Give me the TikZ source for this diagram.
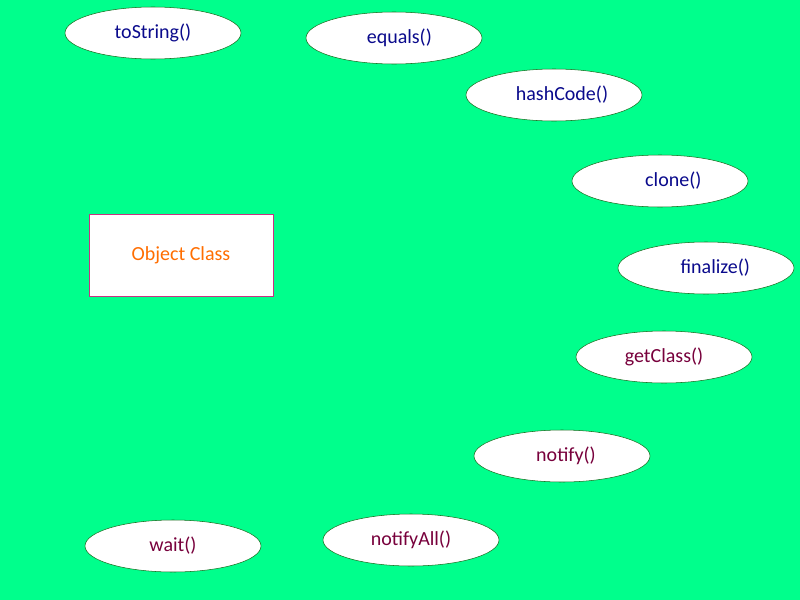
\documentclass[tikz,border=0pt]{standalone}
\usepackage{fontspec}
\setmainfont{Carlito}
\usetikzlibrary{shapes.geometric}
\definecolor{bg}{RGB}{0,255,140}
\definecolor{edge}{RGB}{20,110,30}
\definecolor{navy}{RGB}{10,10,140}
\definecolor{maroon}{RGB}{120,0,60}
\definecolor{boxline}{RGB}{200,50,130}
\definecolor{orng}{RGB}{255,110,0}
\tikzset{
 meth/.style={ellipse,draw=edge,fill=white,minimum width=176*0.75pt,minimum height=52*0.75pt,inner sep=0pt,font=\fontsize{15}{18}\selectfont},
 m1/.style={meth,text=navy},
 m2/.style={meth,text=maroon}
}
\begin{document}
\begin{tikzpicture}[x=0.75pt,y=-0.75pt]
\fill[bg] (0,0) rectangle (800,600);
\useasboundingbox (0,0) rectangle (800,600);
\node[draw=boxline,fill=white,minimum width=184*0.75pt,minimum height=82*0.75pt,text=orng,font=\fontsize{15}{18}\selectfont] (obj) at (181,255) {Object Class};
\node[m1] (ts) at (153,33) {toString()};
\node[m1] (eq) at (394,38) {\hspace{8pt}equals()};
\node[m1] (hc) at (554,95) {\hspace{12pt}hashCode()};
\node[m1] (cl) at (660,181) {\hspace{20pt}clone()};
\node[m1] (fi) at (706,268) {\hspace{14pt}finalize()};
\node[m2] (gc) at (664,357) {getClass()};
\node[m2] (no) at (562,456) {\hspace{6pt}notify()};
\node[m2] (na) at (411,540) {notifyAll()};
\node[m2] (wa) at (173,546) {wait()};
\end{tikzpicture}
\end{document}
